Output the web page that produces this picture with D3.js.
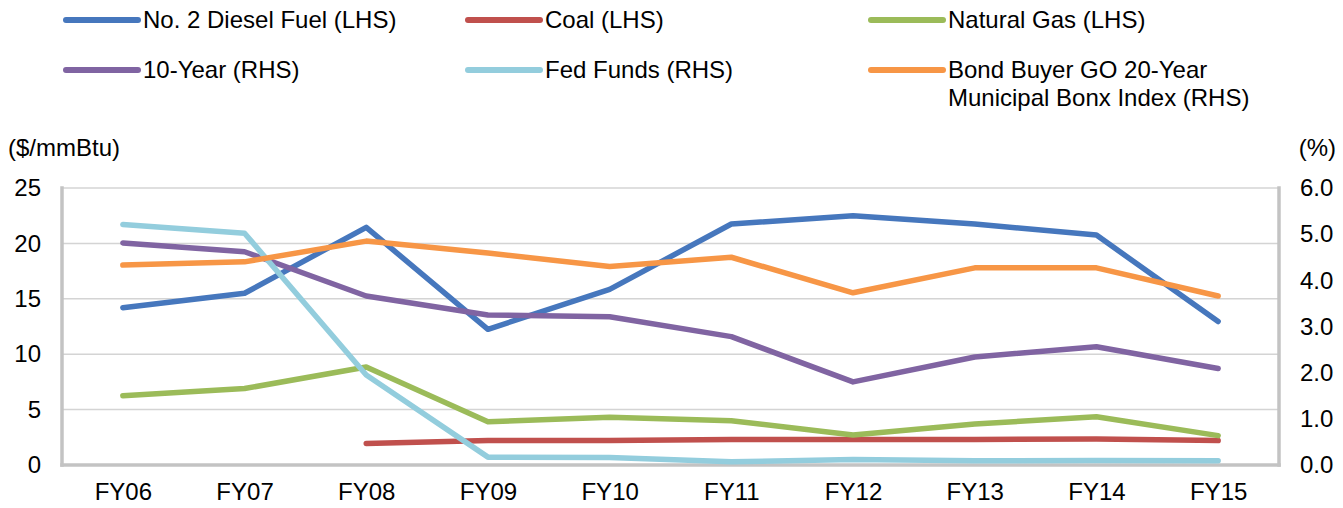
<!DOCTYPE html>
<html>
<head>
<meta charset="utf-8">
<script src="https://cdn.jsdelivr.net/npm/d3@7"></script>
<style>
  body { margin: 0; background: #fff; }
  svg text { font-family: "Liberation Sans", Arial, sans-serif; font-size: 24px; fill: #000; }
  .grid line { stroke: #d4d4d4; stroke-width: 1.5; }
  .axis path, .axis line { display: none; }
</style>
</head>
<body>
<svg id="chart"></svg>
<script>
// Fiscal years on the x axis
const years = ['FY06', 'FY07', 'FY08', 'FY09', 'FY10', 'FY11', 'FY12', 'FY13', 'FY14', 'FY15'];

// Fuel prices, $/mmBtu (left axis)
const diesel = [14.2, 15.5, 21.45, 12.25, 15.85, 21.75, 22.5, 21.75, 20.75, 12.95];
const coal = [null, null, 1.95, 2.2, 2.2, 2.3, 2.3, 2.3, 2.35, 2.2];
const natGas = [6.25, 6.9, 8.85, 3.9, 4.3, 4.0, 2.7, 3.7, 4.35, 2.65];

// Rates, % (right axis)
const tenYear = [4.81, 4.62, 3.66, 3.25, 3.21, 2.78, 1.8, 2.34, 2.56, 2.09];
const fedFunds = [5.21, 5.02, 1.95, 0.17, 0.16, 0.07, 0.12, 0.09, 0.1, 0.09];
const bondBuyer = [4.33, 4.4, 4.85, 4.59, 4.3, 4.5, 3.73, 4.27, 4.27, 3.66];

// Tick values
const leftTicks = [0, 5, 10, 15, 20, 25];
const rightTicks = [0, 1, 2, 3, 4, 5, 6];

const series = [
    { name: 'No. 2 Diesel Fuel (LHS)', values: diesel, axis: 'left', color: '#4677bd' },
    { name: 'Coal (LHS)', values: coal, axis: 'left', color: '#c0504d' },
    { name: 'Natural Gas (LHS)', values: natGas, axis: 'left', color: '#9bbb59' },
    { name: '10-Year (RHS)', values: tenYear, axis: 'right', color: '#8064a2' },
    { name: 'Fed Funds (RHS)', values: fedFunds, axis: 'right', color: '#93cddd' },
    { name: 'Bond Buyer GO 20-Year|Municipal Bonx Index (RHS)', values: bondBuyer, axis: 'right', color: '#f79646' }
];

class DualAxisLines {

    constructor(_config, _data) {
        this.config = {
            parentElement: _config.parentElement,
            containerWidth: _config.containerWidth || 1343,
            containerHeight: _config.containerHeight || 508,
            margin: _config.margin || {top: 188, right: 64, bottom: 43, left: 62}
        }
        this.data = _data;
        this.initVis();
    }

    initVis() {
        let vis = this;

        vis.width = vis.config.containerWidth - vis.config.margin.left - vis.config.margin.right;
        vis.height = vis.config.containerHeight - vis.config.margin.top - vis.config.margin.bottom;

        vis.xScale = d3.scalePoint()
            .domain(years)
            .range([0, vis.width])
            .padding(0.5);

        vis.yLeft = d3.scaleLinear().domain([0, 25]).range([vis.height, 0]);
        vis.yRight = d3.scaleLinear().domain([0, 6]).range([vis.height, 0]);

        vis.svg = d3.select(vis.config.parentElement)
            .attr('width', vis.config.containerWidth)
            .attr('height', vis.config.containerHeight);

        vis.chart = vis.svg.append('g')
            .attr('transform', `translate(${vis.config.margin.left},${vis.config.margin.top})`);

        // horizontal gridlines follow the left axis
        vis.chart.append('g')
            .attr('class', 'grid')
            .selectAll('line')
            .data(leftTicks.slice(1, -1))
            .join('line')
                .attr('x1', 0)
                .attr('x2', vis.width)
                .attr('y1', d => vis.yLeft(d))
                .attr('y2', d => vis.yLeft(d));

        // plot area frame: thin top, heavier left/right/bottom
        vis.chart.append('line')
            .attr('x1', 0).attr('x2', vis.width).attr('y1', 0).attr('y2', 0)
            .attr('stroke', '#d4d4d4').attr('stroke-width', 1.5);
        [[0, 0, 0, vis.height], [vis.width, 0, vis.width, vis.height], [0, vis.height, vis.width, vis.height]]
            .forEach(([x1, y1, x2, y2]) => {
                vis.chart.append('line')
                    .attr('x1', x1).attr('y1', y1).attr('x2', x2).attr('y2', y2)
                    .attr('stroke', '#c3c3c3').attr('stroke-width', 3.5)
                    .attr('stroke-linecap', 'square');
            });

        vis.xAxis = d3.axisBottom(vis.xScale).tickSize(0).tickPadding(18);
        vis.yAxisLeft = d3.axisLeft(vis.yLeft).tickValues(leftTicks).tickSize(0).tickPadding(21);
        vis.yAxisRight = d3.axisRight(vis.yRight).tickValues(rightTicks)
            .tickFormat(d3.format('.1f')).tickSize(0).tickPadding(21);

        vis.xAxisG = vis.chart.append('g')
            .attr('class', 'axis x-axis')
            .attr('transform', `translate(0,${vis.height})`);
        vis.yAxisLeftG = vis.chart.append('g').attr('class', 'axis y-axis');
        vis.yAxisRightG = vis.chart.append('g')
            .attr('class', 'axis y-axis-right')
            .attr('transform', `translate(${vis.width},0)`);

        // Axis titles
        vis.svg.append('text')
            .attr('x', 8)
            .attr('y', 156)
            .text('($/mmBtu)');
        vis.svg.append('text')
            .attr('x', 1336)
            .attr('y', 156)
            .attr('text-anchor', 'end')
            .text('(%)');

        vis.updateVis();
    }

    updateVis() {
        let vis = this;

        vis.lineGen = s => d3.line()
            .defined(d => d != null)
            .x((d, i) => vis.xScale(years[i]))
            .y(d => (s.axis === 'left' ? vis.yLeft : vis.yRight)(d));

        vis.renderVis();
    }

    renderVis() {
        let vis = this;

        vis.chart.selectAll('.series')
            .data(vis.data)
            .join('path')
                .attr('class', 'series')
                .attr('fill', 'none')
                .attr('stroke', d => d.color)
                .attr('stroke-width', 5.5)
                .attr('stroke-linejoin', 'round')
                .attr('stroke-linecap', 'round')
                .attr('d', d => vis.lineGen(d)(d.values));

        vis.xAxisG.call(vis.xAxis);
        vis.yAxisLeftG.call(vis.yAxisLeft);
        vis.yAxisRightG.call(vis.yAxisRight);
        vis.svg.selectAll('.axis text').style('font-size', '24px');

        // Legend, three columns by two rows
        const legendX = [66, 468, 871];
        const legendY = [20, 70];
        const legend = vis.svg.selectAll('.legend-item')
            .data(vis.data)
            .join('g')
                .attr('class', 'legend-item')
                .attr('transform', (d, i) => `translate(${legendX[i % 3]},${legendY[Math.floor(i / 3)]})`);

        legend.append('line')
            .attr('x1', 0).attr('x2', 72)
            .attr('stroke', d => d.color)
            .attr('stroke-width', 6)
            .attr('stroke-linecap', 'round');

        legend.append('text')
            .attr('x', 77)
            .attr('dy', '0.35em')
            .selectAll('tspan')
            .data(d => d.name.split('|'))
            .join('tspan')
                .attr('x', 77)
                .attr('dy', (t, i) => i === 0 ? '0.35em' : 28)
                .text(t => t);
    }
}

const chart = new DualAxisLines({ parentElement: '#chart' }, series);
</script>
</body>
</html>
